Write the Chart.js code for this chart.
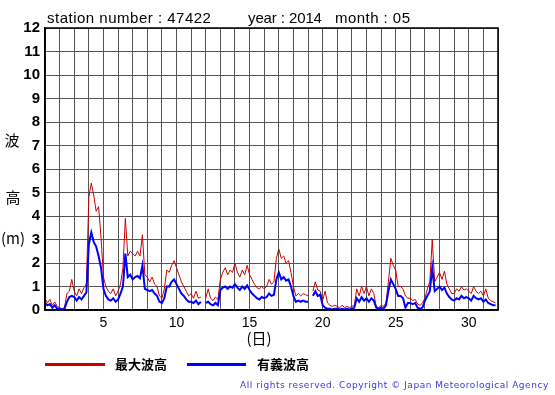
<!DOCTYPE html>
<html>
<head>
<meta charset="utf-8">
<script src="https://cdn.jsdelivr.net/npm/chart.js@4"></script>
<style>
  body { margin: 0; background: #ffffff; }
  #wrap { width: 555px; height: 395px; }
</style>
</head>
<body>
<div id="wrap"><canvas id="waveChart" width="555" height="395"></canvas></div>
<script>
// station 47422, May 2014 - samples every 4 hours (6 per day)
const stationNo = '47422';
const year = '2014';
const month = '05';
const samplesPerDay = 6;

// 最大波高 (m)
const maxWave = [
    0.5, 0.3, 0.45, 0.2, 0.35, 0.15,   // 1
    0.1, 0.05, 0.1, 0.7, 0.8, 1.3,     // 2
    0.8, 0.6, 0.9, 0.7, 0.95, 1.1,     // 3
    4.8, 5.4, 4.9, 4.2, 4.4, 3.1,      // 4
    1.4, 1.0, 0.8, 0.7, 0.9, 0.6,      // 5
    0.8, 1.1, 1.8, 3.9, 2.3, 2.5,      // 6
    2.4, 2.3, 2.5, 2.3, 3.2, 1.5,      // 7
    1.4, 1.2, 1.4, 1.1, 1.0, 0.6,      // 8
    0.5, 0.9, 1.7, 1.6, 1.9, 2.1,      // 9
    1.8, 1.5, 1.2, 1.0, 0.8, 0.6,      // 10
    0.7, 0.5, 0.8, 0.5, 0.55, null,    // 11
    0.5, 0.9, 0.5, 0.4, 0.55, 0.45,    // 12
    1.3, 1.6, 1.8, 1.5, 1.7, 1.6,      // 13
    2.0, 1.6, 1.4, 1.7, 1.5, 1.9,      // 14
    1.5, 1.3, 1.1, 0.95, 0.9, 1.0,     // 15
    0.9, 1.0, 1.3, 1.1, 1.2, 2.2,      // 16
    2.6, 2.2, 2.3, 2.0, 2.1, 1.6,      // 17
    1.0, 0.6, 0.7, 0.6, 0.7, 0.65,     // 18
    0.6, null, 0.8, 1.2, 0.85, 0.8,    // 19
    0.4, 0.8, 0.3, 0.2, 0.15, 0.2,     // 20
    0.15, 0.1, 0.2, 0.1, 0.15, 0.1,    // 21
    0.15, 0.2, 0.9, 0.6, 1.0, 0.7,     // 22
    1.0, 0.6, 0.9, 0.7, 0.15, 0.1,     // 23
    0.2, 0.15, 0.3, 1.2, 2.2, 1.9,     // 24
    1.7, 1.0, 1.0, 0.9, 0.6, 0.5,      // 25
    0.5, 0.4, 0.45, 0.25, 0.2, 0.3,    // 26
    0.5, 0.9, 1.2, 3.0, 1.2, 1.4,      // 27
    1.6, 1.3, 1.65, 1.1, 0.9, 0.7,     // 28
    0.7, 0.9, 0.8, 1.0, 0.85, 0.9,     // 29
    0.8, 0.7, 1.0, 0.8, 0.7, 0.8,      // 30
    0.6, 0.9, 0.5, 0.4, 0.35, 0.3      // 31
];

// 有義波高 (m)
const sigWave = [
    0.3, 0.2, 0.25, 0.1, 0.2, 0.05,    // 1
    0.05, 0.02, 0.05, 0.35, 0.55, 0.6, // 2
    0.55, 0.4, 0.55, 0.45, 0.6, 0.75,  // 3
    2.8, 3.3, 2.9, 2.7, 2.3, 1.8,      // 4
    0.9, 0.6, 0.45, 0.4, 0.5, 0.35,    // 5
    0.45, 0.7, 1.0, 2.4, 1.4, 1.5,     // 6
    1.3, 1.4, 1.45, 1.35, 1.9, 0.9,    // 7
    0.85, 0.8, 0.85, 0.7, 0.6, 0.35,   // 8
    0.3, 0.5, 1.0, 1.0, 1.2, 1.3,      // 9
    1.1, 0.9, 0.7, 0.6, 0.45, 0.35,    // 10
    0.35, 0.3, 0.4, 0.25, 0.35, null,  // 11
    0.3, 0.35, 0.25, 0.2, 0.3, 0.2,    // 12
    0.85, 0.95, 1.0, 0.9, 1.0, 0.95,   // 13
    1.1, 0.95, 0.85, 1.0, 0.9, 1.05,   // 14
    0.85, 0.7, 0.6, 0.5, 0.45, 0.55,   // 15
    0.5, 0.55, 0.7, 0.6, 0.65, 1.3,    // 16
    1.6, 1.3, 1.4, 1.25, 1.3, 1.0,     // 17
    0.6, 0.35, 0.4, 0.35, 0.4, 0.35,   // 18
    0.35, null, 0.6, 0.8, 0.6, 0.65,   // 19
    0.2, 0.1, 0.05, 0.05, 0.02, 0.05,  // 20
    0.05, 0.02, 0.05, 0.02, 0.05, 0.02,// 21
    0.05, 0.1, 0.5, 0.35, 0.55, 0.4,   // 22
    0.5, 0.35, 0.5, 0.4, 0.1, 0.05,    // 23
    0.1, 0.05, 0.2, 0.8, 1.3, 1.1,     // 24
    0.9, 0.6, 0.6, 0.5, 0.1, 0.3,      // 25
    0.3, 0.25, 0.3, 0.1, 0.05, 0.1,    // 26
    0.4, 0.6, 0.8, 1.8, 0.8, 0.9,      // 27
    1.0, 0.85, 0.95, 0.7, 0.55, 0.45,  // 28
    0.4, 0.5, 0.45, 0.6, 0.5, 0.55,    // 29
    0.5, 0.4, 0.6, 0.5, 0.45, 0.5,     // 30
    0.35, 0.45, 0.3, 0.25, 0.2, 0.2    // 31
];

const dayTicks = [5, 10, 15, 20, 25, 30];
const yMin = 0;
const yMax = 12;
const dayMin = 1;
const dayMax = 32;

const seriesNames = ['最大波高', '有義波高'];
const seriesColors = ['#cc0000', '#0000ff'];

function toPoints(values) {
    return values.map((v, i) => ({ x: dayMin + i / samplesPerDay, y: v }));
}

// draw text stretched by letter spacing so it fills a given width
function fitText(ctx, text, x, y, width) {
    ctx.letterSpacing = '0px';
    const w = ctx.measureText(text).width;
    const gap = (width - w) / Math.max(text.length - 1, 1);
    ctx.letterSpacing = gap.toFixed(2) + 'px';
    ctx.fillText(text, x, y);
    ctx.letterSpacing = '0px';
}

const decorPlugin = {
    id: 'decor',
    afterDraw(chart) {
        const ctx = chart.ctx;
        const area = chart.chartArea;
        ctx.save();

        // frame
        ctx.strokeStyle = '#000000';
        ctx.lineWidth = 1.5;
        ctx.strokeRect(area.left, area.top, area.right - area.left, area.bottom - area.top);

        // title
        ctx.fillStyle = '#000000';
        ctx.font = '15px "Liberation Sans", Arial, sans-serif';
        ctx.textBaseline = 'alphabetic';
        ctx.textAlign = 'left';
        fitText(ctx, 'station number : ' + stationNo, 47, 23, 164);
        fitText(ctx, 'year : ' + year, 248, 23, 74);
        fitText(ctx, 'month : ' + month, 335, 23, 75);

        // y axis title
        ctx.textAlign = 'center';
        ctx.textBaseline = 'middle';
        ctx.font = '15px "Noto Sans CJK JP", sans-serif';
        ctx.fillText('波', 12, 140);
        ctx.fillText('高', 13, 197);
        ctx.fillText('(m)', 13, 238);

        // x axis title
        ctx.fillText('(日)', 259, 338);

        // legend
        ctx.lineWidth = 3;
        ctx.strokeStyle = seriesColors[0];
        ctx.beginPath(); ctx.moveTo(45, 364.5); ctx.lineTo(105, 364.5); ctx.stroke();
        ctx.strokeStyle = seriesColors[1];
        ctx.beginPath(); ctx.moveTo(187, 364.5); ctx.lineTo(246, 364.5); ctx.stroke();
        ctx.font = 'bold 13px "Noto Sans CJK JP", sans-serif';
        ctx.textAlign = 'left';
        ctx.fillText(seriesNames[0], 115, 364);
        ctx.fillText(seriesNames[1], 257, 364);

        // copyright
        ctx.fillStyle = '#3a3ae0';
        ctx.font = '9px "DejaVu Sans", sans-serif';
        fitText(ctx, 'All rights reserved. Copyright © Japan Meteorological Agency', 240, 386, 308);
        ctx.restore();
    }
};

new Chart(document.getElementById('waveChart'), {
    type: 'line',
    data: {
        datasets: [
            {
                label: seriesNames[0],
                data: toPoints(maxWave),
                borderColor: seriesColors[0],
                borderWidth: 1,
                pointRadius: 0,
                tension: 0,
                spanGaps: false,
                order: 2
            },
            {
                label: seriesNames[1],
                data: toPoints(sigWave),
                borderColor: seriesColors[1],
                borderWidth: 2,
                pointRadius: 0,
                tension: 0,
                spanGaps: false,
                order: 1
            }
        ]
    },
    options: {
        responsive: false,
        animation: false,
        devicePixelRatio: 1,
        layout: { padding: { left: 0, top: 28, right: 57, bottom: 0 } },
        plugins: {
            legend: { display: false },
            tooltip: { enabled: false }
        },
        scales: {
            x: {
                type: 'linear',
                min: dayMin,
                max: dayMax,
                afterFit: (scale) => { scale.height = 85; },
                grid: { color: '#555555', lineWidth: 1, drawTicks: false },
                border: { color: '#000000', width: 1.5 },
                ticks: {
                    stepSize: 1,
                    autoSkip: false,
                    maxRotation: 0,
                    padding: 5,
                    color: '#000000',
                    font: { family: '"Liberation Sans", Arial, sans-serif', size: 14 },
                    callback: (v) => dayTicks.includes(v) ? String(v) : ''
                }
            },
            y: {
                min: yMin,
                max: yMax,
                afterFit: (scale) => { scale.width = 45; },
                grid: { color: '#555555', lineWidth: 1, drawTicks: false },
                border: { color: '#000000', width: 1.5 },
                ticks: {
                    stepSize: 1,
                    padding: 5,
                    color: '#000000',
                    font: { family: '"Liberation Sans", Arial, sans-serif', size: 15, weight: 'bold' }
                }
            }
        }
    },
    plugins: [decorPlugin]
});
</script>
</body>
</html>
